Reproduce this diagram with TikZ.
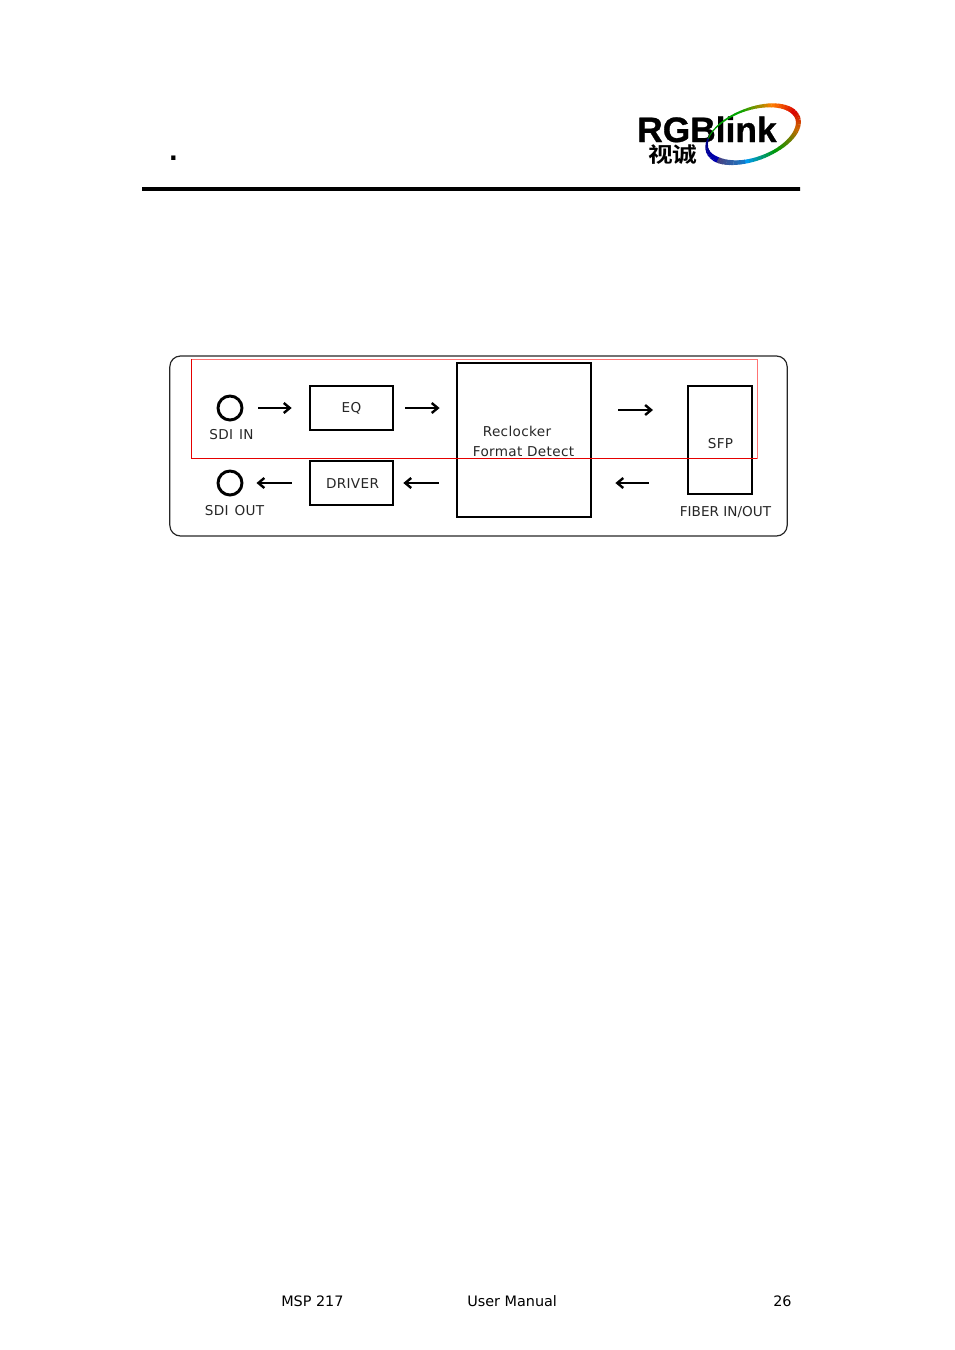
\documentclass[tikz,border=0pt]{standalone}
\usepackage{fontspec}
\usepackage{graphicx}
\setmainfont{DejaVu Sans}
\newfontfamily\cjk{Noto Sans CJK SC}[BoldFont={Noto Sans CJK SC Bold}]
\newfontfamily\logofont{Liberation Sans}
\usetikzlibrary{arrows.meta}
\tikzset{
  thinbox/.style={draw,line width=2pt,inner sep=0pt},
  widebox/.style={draw,line width=2.1pt,inner sep=0pt},
  port/.style={draw,circle,line width=2.2pt,minimum size=18pt,inner sep=0pt},
  lbl/.style={inner sep=0pt,text=black!85,font=\fontsize{10.2}{12}\selectfont},
  spaced/.style={lbl,font=\fontsize{10.2}{12}\selectfont\addfontfeature{LetterSpace=2.5}},
  foot/.style={inner sep=0pt,anchor=base west,font=\fontsize{10.8}{13}\selectfont},
  flow/.style={-{Straight Barb[length=4.5pt,width=7.5pt]},line width=1.8pt}
}
\begin{document}
\begin{tikzpicture}[x=0.75pt,y=-0.75pt]
\useasboundingbox (0,0) rectangle (954,1350);
% header
\node[inner sep=0pt,anchor=base,font=\bfseries\fontsize{18}{18}\selectfont] (dot) at (173.5,160.5) {.};
\node[inner sep=0pt,anchor=base west,font=\logofont\bfseries\fontsize{26.5}{27}\selectfont\addfontfeature{FakeBold=0.8}] (rgb) at (637,142) {RGBlink};
\node[inner sep=0pt,anchor=base west,font=\cjk\bfseries\fontsize{18.5}{19}\selectfont] (cn) at (648,162.5) {\scalebox{1}[.85]{视诚}};
\begin{scope}[shift={(752.5,134)},rotate=20]
\foreach \from/\to/\ca/\cb/\wa/\wb in {
  205/265/green!60!black/green!65!black/0.6/1.6,
  265/305/green!65!black/orange/1.6/3/,
  305/345/orange/red!85!black/3/4,
  345/385/red!85!black/orange!80!black/4/3.5,
  385/430/orange!80!black/green!60!black/3.5/2.5,
  430/470/green!60!black/cyan!60!blue/2.5/3,
  470/510/cyan!60!blue/blue!70!black/3/4.5,
  510/565/blue!70!black/blue!50!black/4.5/1}
  \foreach \s in {0,...,7}{
    \pgfmathsetmacro{\tA}{\from+(\to-\from)*\s/8}
    \pgfmathsetmacro{\tB}{\from+(\to-\from)*(\s+1.1)/8}
    \pgfmathsetmacro{\mixv}{100-100*(\s+.5)/8}
    \pgfmathsetmacro{\lw}{\wa+(\wb-\wa)*(\s+.5)/8}
    \colorlet{segcol}{\ca}
    \colorlet{segend}{\cb}
    \draw[color=segcol!\mixv!segend,line width=\lw pt]
      (\tA:48 and 25) arc[start angle=\tA,end angle=\tB,x radius=48,y radius=25];
  }
\end{scope}
\node[draw,line width=3pt,inner sep=0pt,minimum width=493.5pt,minimum height=0pt] (rule) at (471,188.8) {};
% frame
\node[draw,line width=0.9pt,rounded corners=8pt,inner sep=0pt,minimum width=463pt,minimum height=135pt,color=black!85] (frame) at (478.5,446) {};
% blocks
\node[port] (sdiin) at (230,408) {};
\node[port] (sdiout) at (230,483) {};
\node[thinbox,minimum width=62.25pt,minimum height=33pt] (eq) at (351.5,408) {};
\node[thinbox,minimum width=62.25pt,minimum height=33pt] (driver) at (351.5,483) {};
\node[widebox,minimum width=100.5pt,minimum height=115.5pt] (recl) at (524,440) {};
\node[widebox,minimum width=48pt,minimum height=81pt] (sfp) at (720,440) {};
% labels
\node[spaced] (sdiinl) at (231.5,435) {SDI\hspace{1pt} IN};
\node[spaced] (sdioutl) at (234.5,510.5) {SDI\hspace{1pt} OUT};
\node[spaced] (eql) at (351.5,408.5) {EQ};
\node[spaced] (driverl) at (352.5,483.5) {DRIVER};
\node[spaced] (recll) at (517,431) {Reclocker};
\node[spaced] (fmtl) at (523.5,451.5) {Format Detect};
\node[spaced] (sfpl) at (720.5,443.5) {SFP};
\node[lbl] (fiberl) at (725.5,512.5) {FIBER IN/OUT};
% arrows
\coordinate (rtop) at (591,410);
\coordinate (stop) at (688,410);
\draw[flow,shorten <=15pt*0.75,shorten >=17pt*0.75] (sdiin.east) -- (eq.west);
\draw[flow,shorten <=11pt*0.75,shorten >=16pt*0.75] (eq.east) -- (eq.east -| recl.west);
\draw[flow,shorten <=27pt*0.75,shorten >=35pt*0.75] (rtop) -- (stop);
\draw[flow,shorten <=38pt*0.75,shorten >=23pt*0.75] (sfp.west |- driver) -- (recl.east |- driver);
\draw[flow,shorten <=17pt*0.75,shorten >=9pt*0.75] (driver.east -| recl.west) -- (driver.east);
\draw[flow,shorten <=17pt*0.75,shorten >=13pt*0.75] (driver.west) -- (sdiout.east);
% red outline
\coordinate (ra) at (191,359);
\coordinate (rb) at (757,359);
\coordinate (rc) at (757,458.5);
\coordinate (rd) at (191,458.5);
\draw[red!55,line width=0.6pt] (ra) -- (rb) -- (rc);
\draw[red!90!black,line width=0.6pt] (rc) -- (rd) -- (ra);
% footer
\node[foot] (model) at (281,1306) {MSP 217};
\node[foot] (manual) at (467,1306) {User Manual};
\node[foot] (page) at (773,1306) {26};
\end{tikzpicture}
\end{document}
